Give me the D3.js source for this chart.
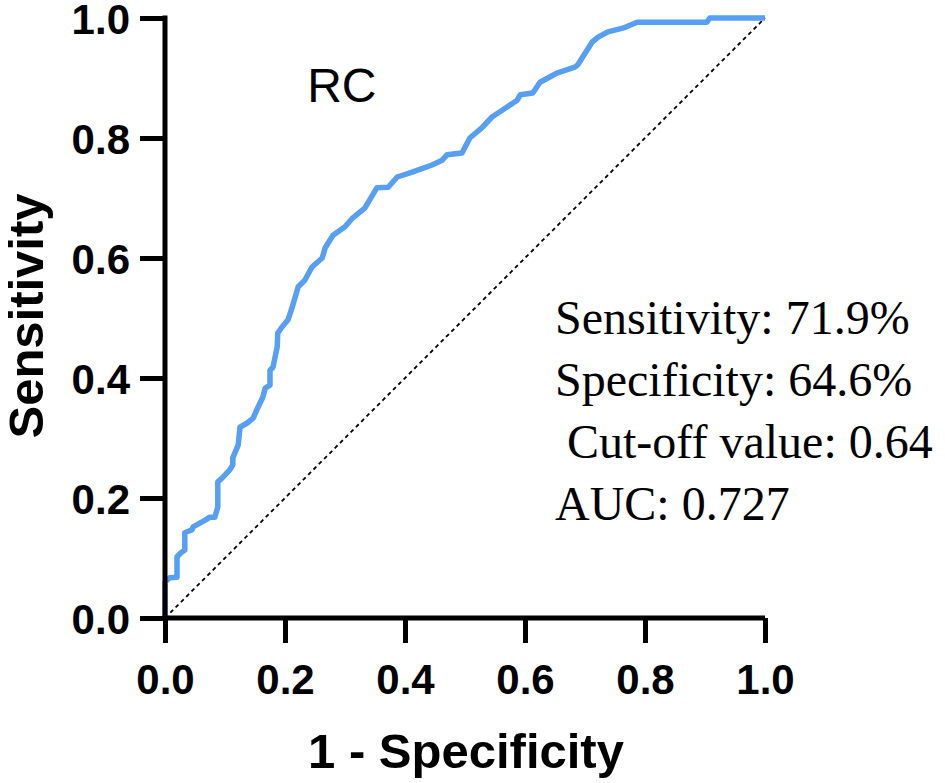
<!DOCTYPE html>
<html>
<head>
<meta charset="utf-8">
<script src="https://cdn.jsdelivr.net/npm/d3@7"></script>
<style>
  html, body { margin: 0; padding: 0; background: #fff; overflow: hidden; }
  svg { display: block; }
</style>
</head>
<body>
<svg></svg>
<script>
// ROC curve points
const fpr = [0, 0, 0.008, 0.02, 0.02, 0.028, 0.033, 0.033, 0.045, 0.047, 0.058, 0.067, 0.075, 0.083,
  0.088, 0.088, 0.095, 0.108, 0.113, 0.113, 0.122, 0.125, 0.137, 0.147, 0.153, 0.163, 0.167, 0.175,
  0.175, 0.18, 0.187, 0.188, 0.195, 0.205, 0.212, 0.222, 0.233, 0.245, 0.262, 0.267, 0.28, 0.3,
  0.313, 0.333, 0.353, 0.372, 0.387, 0.412, 0.445, 0.462, 0.47, 0.495, 0.508, 0.528, 0.545, 0.587,
  0.592, 0.613, 0.625, 0.642, 0.653, 0.683, 0.688, 0.712, 0.722, 0.738, 0.763, 0.787, 0.903, 0.908, 1];
const tpr = [0, 0.06, 0.067, 0.068, 0.102, 0.11, 0.113, 0.142, 0.147, 0.152, 0.158, 0.163, 0.168, 0.168,
  0.185, 0.227, 0.233, 0.247, 0.255, 0.267, 0.288, 0.318, 0.325, 0.333, 0.347, 0.368, 0.383, 0.388,
  0.413, 0.418, 0.452, 0.475, 0.485, 0.497, 0.518, 0.552, 0.563, 0.585, 0.6, 0.617, 0.638, 0.652,
  0.667, 0.683, 0.717, 0.718, 0.735, 0.743, 0.755, 0.763, 0.772, 0.775, 0.8, 0.817, 0.835, 0.863,
  0.872, 0.875, 0.893, 0.902, 0.908, 0.918, 0.922, 0.96, 0.968, 0.977, 0.983, 0.993, 0.993, 1, 1];
const ticks = [0, 0.2, 0.4, 0.6, 0.8, 1.0];
const statLines = ["Sensitivity: 71.9%", "Specificity: 64.6%", " Cut-off value: 0.64", "AUC: 0.727"];
const curveLabel = "RC";

const width = 945;
const height = 783;
const margin = { top: 18, right: 180, bottom: 165, left: 165 };
const innerWidth = width - margin.left - margin.right;   // 600
const innerHeight = height - margin.top - margin.bottom; // 600

const svg = d3.select("svg").attr("width", width).attr("height", height);

const x = d3.scaleLinear().domain([0, 1]).range([0, innerWidth]);
const y = d3.scaleLinear().domain([0, 1]).range([innerHeight, 0]);

const g = svg.append("g").attr("transform", `translate(${margin.left},${margin.top})`);

// reference diagonal
g.append("line")
  .attr("x1", x(0)).attr("y1", y(0))
  .attr("x2", x(1)).attr("y2", y(1))
  .attr("stroke", "#000")
  .attr("stroke-width", 1.8)
  .attr("stroke-dasharray", "4,3.5");

// ROC curve
const pts = fpr.map((d, i) => [d, tpr[i]]);
g.append("path")
  .datum(pts)
  .attr("fill", "none")
  .attr("stroke", "#569ff3")
  .attr("stroke-width", 5.5)
  .attr("stroke-linejoin", "round")
  .attr("d", d3.line().x((d) => x(d[0])).y((d) => y(d[1])));

// axes
const xAxis = g.append("g")
  .attr("transform", `translate(0,${innerHeight})`)
  .call(d3.axisBottom(x).tickValues(ticks).tickFormat(d3.format(".1f")).tickSize(25).tickPadding(21));
const yAxis = g.append("g")
  .call(d3.axisLeft(y).tickValues(ticks).tickFormat(d3.format(".1f")).tickSize(25).tickPadding(10));

xAxis.select(".domain").attr("d", `M-2.5,0H${innerWidth}`);
yAxis.select(".domain").attr("d", `M0,-2.5V${innerHeight + 2.5}`);

[xAxis, yAxis].forEach((a) => {
  a.select(".domain").attr("stroke", "#000").attr("stroke-width", 5);
  a.selectAll(".tick line").attr("stroke", "#000").attr("stroke-width", 5);
  a.selectAll(".tick text")
    .attr("fill", "#000")
    .attr("font-family", "Arial, 'Liberation Sans', sans-serif")
    .attr("font-weight", "bold")
    .attr("font-size", 42);
});
yAxis.selectAll(".tick text").attr("dy", "0.36em");

// axis titles
svg.append("text")
  .attr("x", margin.left + innerWidth / 2 + 1)
  .attr("y", 768)
  .attr("text-anchor", "middle")
  .attr("font-family", "Arial, 'Liberation Sans', sans-serif")
  .attr("font-weight", "bold")
  .attr("font-size", 49)
  .text("1 - Specificity");

svg.append("text")
  .attr("transform", `translate(43,316) rotate(-90)`)
  .attr("text-anchor", "middle")
  .attr("font-family", "Arial, 'Liberation Sans', sans-serif")
  .attr("font-weight", "bold")
  .attr("font-size", 49)
  .text("Sensitivity");

// curve label
g.append("text")
  .attr("x", x(0.237))
  .attr("y", 84)
  .attr("font-family", "Arial, 'Liberation Sans', sans-serif")
  .attr("font-size", 48)
  .text(curveLabel);

// stats
g.selectAll(".stat")
  .data(statLines)
  .enter()
  .append("text")
  .attr("class", "stat")
  .attr("x", 390)
  .attr("y", (d, i) => 316 + i * 62)
  .attr("font-family", "'Liberation Serif', 'Times New Roman', serif")
  .attr("font-size", 48)
  .style("white-space", "pre")
  .text((d) => d);
</script>
</body>
</html>
